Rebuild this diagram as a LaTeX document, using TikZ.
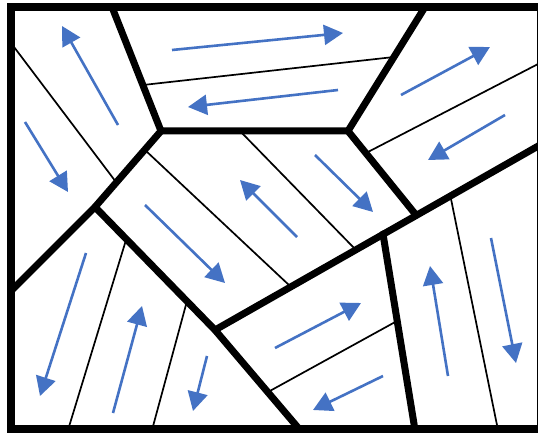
\documentclass[tikz,border=0pt]{standalone}
\usetikzlibrary{arrows.meta}
\definecolor{arrowblue}{RGB}{68,114,196}
\tikzset{
  frameline/.style={line width=7.5pt},
  boundary/.style={line width=7pt, line cap=round, line join=round},
  lamella/.style={line width=1.7pt},
  slip/.style={arrowblue, line width=2.6pt, -{Triangle[length=19pt,width=20pt]}}
}
\begin{document}
\begin{tikzpicture}[x=1pt,y=-1pt]
\useasboundingbox (0,0) rectangle (538,433);
\clip (0,0) rectangle (538,433);
\fill[white] (0,0) rectangle (538,433);
% junctions
\coordinate (T1) at (112,7);
\coordinate (A) at (161,131);
\coordinate (B) at (348,131);
\coordinate (T3) at (425,7);
\coordinate (C) at (416,215);
\coordinate (R5) at (540,145);
\coordinate (D) at (95,207);
\coordinate (L7) at (11,291);
\coordinate (E) at (215,330);
\coordinate (B8) at (300,430);
\coordinate (F) at (383,234);
\coordinate (B10) at (415,430);
% thin lamella boundaries
\coordinate (t1a) at (11,43);   \coordinate (t1b) at (116,182);
\coordinate (t2a) at (143,85);  \coordinate (t2b) at (394,57);
\coordinate (t3a) at (366,153); \coordinate (t3b) at (540,63);
\coordinate (t4a) at (145,150); \coordinate (t4b) at (290,286);
\coordinate (t5a) at (240,131); \coordinate (t5b) at (355,249);
\coordinate (t6a) at (126,240); \coordinate (t6b) at (68,430);
\coordinate (t7a) at (187,301); \coordinate (t7b) at (152,430);
\coordinate (t8a) at (397,321); \coordinate (t8b) at (268,392);
\coordinate (t9a) at (450,194); \coordinate (t9b) at (498,430);
\foreach \i in {1,...,9} \draw[lamella] (t\i a) -- (t\i b);
% grain boundaries
\draw[boundary] (T1) -- (A) -- (B) -- (T3);
\draw[boundary] (A) -- (D) -- (L7);
\draw[boundary] (B) -- (C);
\draw[boundary] (D) -- (E) -- (B8);
\draw[boundary] (E) -- (R5);
\draw[boundary] (F) -- (B10);
% frame
\draw[frameline] (11,7) rectangle (541,429);
% slip arrows
\coordinate (a1s) at (118,125);  \coordinate (a1e) at (62,26);
\coordinate (a2s) at (25,122);   \coordinate (a2e) at (68,192);
\coordinate (a3s) at (172,50);   \coordinate (a3e) at (343,33);
\coordinate (a4s) at (338,90);   \coordinate (a4e) at (188,107);
\coordinate (a5s) at (401,95);   \coordinate (a5e) at (490,47);
\coordinate (a6s) at (505,115);  \coordinate (a6e) at (428,160);
\coordinate (a7s) at (145,205);  \coordinate (a7e) at (225,283);
\coordinate (a8s) at (297,237);  \coordinate (a8e) at (240,180);
\coordinate (a9s) at (315,155);  \coordinate (a9e) at (373,212);
\coordinate (a10s) at (86,253);  \coordinate (a10e) at (40,396);
\coordinate (a11s) at (113,413); \coordinate (a11e) at (142,306);
\coordinate (a12s) at (207,356); \coordinate (a12e) at (193,411);
\coordinate (a13s) at (275,348); \coordinate (a13e) at (361,303);
\coordinate (a14s) at (383,376); \coordinate (a14e) at (313,410);
\coordinate (a15s) at (448,376); \coordinate (a15e) at (430,266);
\coordinate (a16s) at (491,238); \coordinate (a16e) at (516,363);
\foreach \i in {1,...,16} \draw[slip] (a\i s) -- (a\i e);
\end{tikzpicture}
\end{document}
